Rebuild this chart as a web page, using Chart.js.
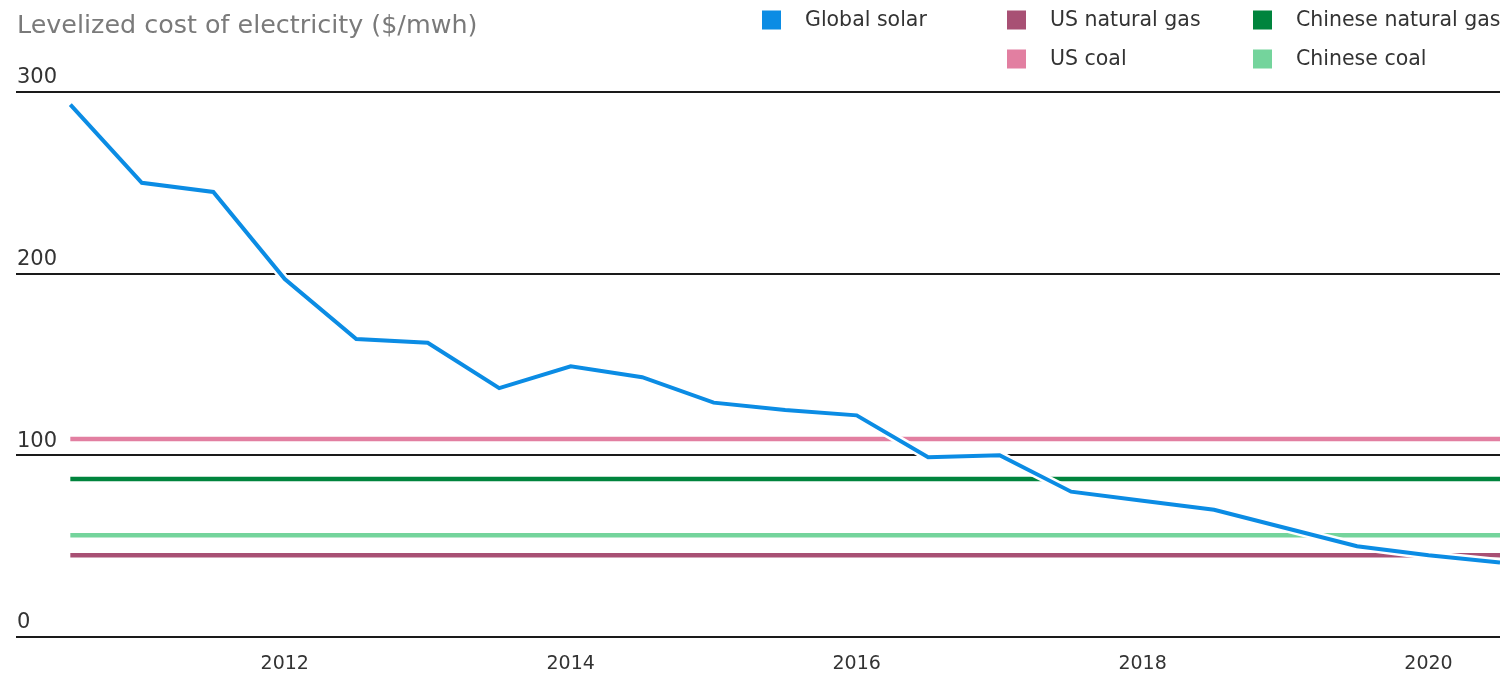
<!DOCTYPE html>
<html>
<head>
<meta charset="utf-8">
<title>Levelized cost of electricity</title>
<script src="https://cdn.jsdelivr.net/npm/chart.js@4.4.1/dist/chart.umd.min.js"></script>
<style>
  html, body { margin: 0; padding: 0; background: #fff; }
</style>
</head>
<body>
<canvas id="chart" width="1503" height="676"></canvas>
<script>
// Datos (valores aproximados)
const TITLE = 'Levelized cost of electricity ($/mwh)';

const solarYears = [2010.5, 2011, 2011.5, 2012, 2012.5, 2013, 2013.5, 2014, 2014.5, 2015, 2015.5,
                    2016, 2016.5, 2017, 2017.5, 2018, 2018.5, 2019, 2019.5, 2020, 2020.5];
const globalSolar = [293, 250, 245, 197, 164, 162, 137, 149, 143, 129, 125,
                     122, 99, 100, 80, 75, 70, 60, 50, 45, 41];

const flatYears = [2010.5, 2020.5];
const usNaturalGas = [45, 45];
const chineseNaturalGas = [87, 87];
const usCoal = [109, 109];
const chineseCoal = [56, 56];

const xTicks = [2012, 2014, 2016, 2018, 2020];
const yTicks = [0, 100, 200, 300];

const FONT = '"DejaVu Sans", sans-serif';

const colors = {
    solar: '#0b8ce4',
    usGas: '#a85074',
    cnGas: '#00843d',
    usCoal: '#e27fa1',
    cnCoal: '#74d49c',
    grid: '#1a1a1a',
    text: '#333333',
    title: '#7a7a7a'
};

const toPoints = (xs, ys) => xs.map((x, i) => ({ x, y: ys[i] }));

// Posiciones de la leyenda (columna, fila) como en el original
const legendSlots = [[762, 20], [1007, 20], [1253, 20], [1007, 59], [1253, 59]];

const headerPlugin = {
    id: 'header',
    afterDraw(chart) {
        const ctx = chart.ctx;
        ctx.save();
        ctx.font = `25.4px ${FONT}`;
        ctx.fillStyle = colors.title;
        ctx.textBaseline = 'alphabetic';
        ctx.textAlign = 'left';
        ctx.fillText(TITLE, 17, 33);

        ctx.font = `20.5px ${FONT}`;
        ctx.textBaseline = 'middle';
        let i = 0;
        chart.data.datasets.forEach(ds => {
            if (!ds.inLegend) return;
            const [x, y] = legendSlots[i++];
            ctx.fillStyle = ds.borderColor;
            ctx.fillRect(x, y - 9.5, 19, 19);
            ctx.fillStyle = colors.text;
            ctx.fillText(ds.label, x + 43, y + 1);
        });
        ctx.restore();
    }
};

const lineDataset = (label, xs, ys, color, width, order) => ({
    label,
    data: toPoints(xs, ys),
    borderColor: color,
    backgroundColor: color,
    borderWidth: width,
    pointRadius: 0,
    tension: 0,
    fill: false,
    order,
    inLegend: true
});

new Chart(document.getElementById('chart').getContext('2d'), {
    type: 'line',
    data: {
        datasets: [
            lineDataset('Global solar', solarYears, globalSolar, colors.solar, 4, 0),
            lineDataset('US natural gas', flatYears, usNaturalGas, colors.usGas, 4.5, 2),
            lineDataset('Chinese natural gas', flatYears, chineseNaturalGas, colors.cnGas, 4.5, 2),
            lineDataset('US coal', flatYears, usCoal, colors.usCoal, 4.5, 2),
            lineDataset('Chinese coal', flatYears, chineseCoal, colors.cnCoal, 4.5, 2),
            // halo blanco bajo la línea solar
            { ...lineDataset('halo', solarYears, globalSolar, '#ffffff', 9, 1), inLegend: false }
        ]
    },
    options: {
        responsive: false,
        animation: false,
        layout: { padding: { top: 92, left: 14, right: 3, bottom: 0 } },
        plugins: {
            legend: { display: false },
            tooltip: { enabled: false }
        },
        scales: {
            x: {
                type: 'linear',
                min: 2010.12,
                max: 2020.5,
                afterBuildTicks: s => { s.ticks = xTicks.map(v => ({ value: v })); },
                afterFit: s => { s.height = 39; },
                grid: { display: false, drawTicks: false },
                border: { display: false },
                ticks: {
                    color: colors.text,
                    font: { family: FONT, size: 19 },
                    padding: 16,
                    maxRotation: 0,
                    callback: v => String(v)
                }
            },
            y: {
                min: 0,
                max: 300,
                afterBuildTicks: s => { s.ticks = yTicks.map(v => ({ value: v })); },
                grid: { color: colors.grid, lineWidth: 2, drawTicks: false },
                border: { display: false },
                ticks: {
                    mirror: true,
                    padding: 1,
                    labelOffset: -14,
                    color: colors.text,
                    font: { family: FONT, size: 21 },
                    callback: v => String(v)
                }
            }
        }
    },
    plugins: [headerPlugin]
});
</script>
</body>
</html>
